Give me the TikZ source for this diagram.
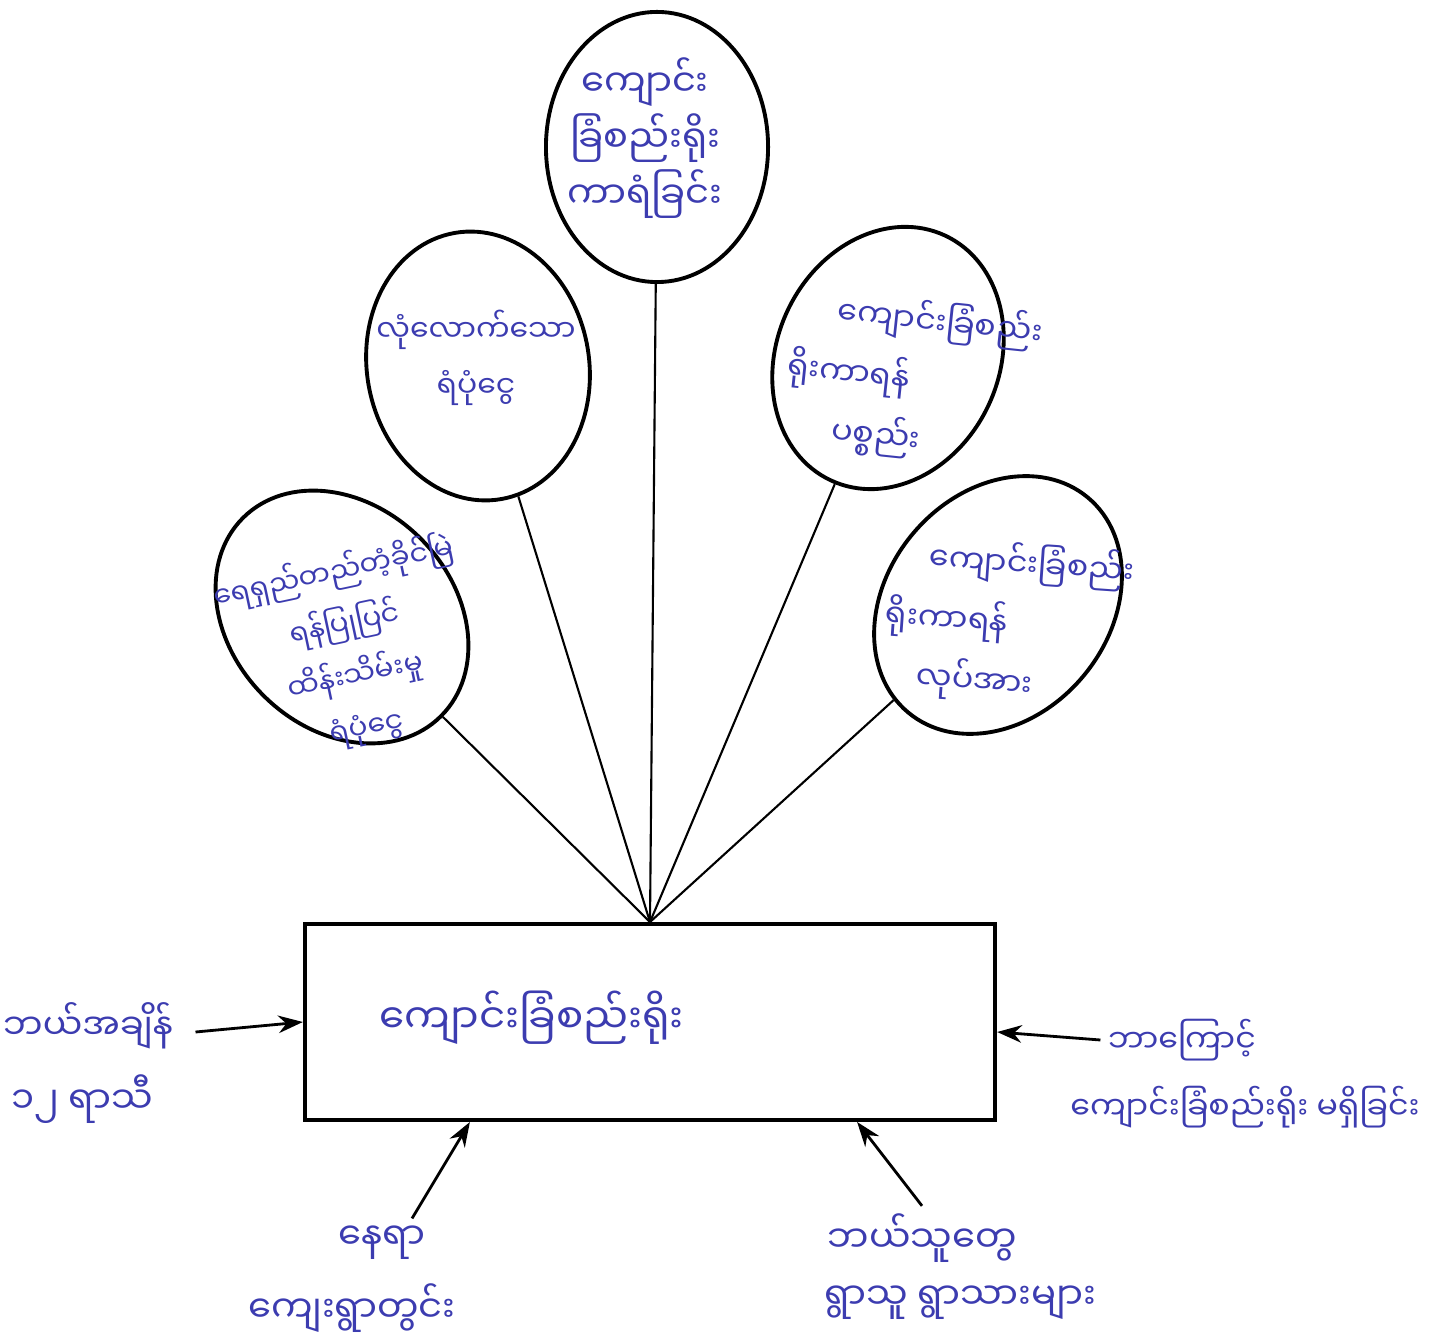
\documentclass[tikz,border=0pt]{standalone}
\usepackage{fontspec}
\newfontfamily\mmfont[Script=Myanmar]{Noto Sans Myanmar UI}
\usetikzlibrary{shapes.geometric,arrows.meta}
\definecolor{inkblue}{HTML}{3C3CB0}
\tikzset{
	bubble/.style={draw,ellipse,line width=1.1pt,minimum width=2.22cm,minimum height=2.7cm,inner sep=0pt},
	fencebox/.style={draw,rectangle,line width=1.1pt,minimum width=6.9cm,minimum height=1.96cm,inner sep=0pt},
	hand/.style={text=inkblue,font=\mmfont\fontsize{10.5}{16}\selectfont,align=center,inner sep=2pt},
	small hand/.style={hand,font=\mmfont\fontsize{9}{17}\selectfont},
	spoke/.style={line width=0.6pt},
	push/.style={-{Stealth[length=7pt,width=5pt]},line width=0.8pt}
}
\begin{document}
\begin{tikzpicture}[x=0.01cm,y=-0.01cm]
	\useasboundingbox (0,0) rectangle (1455,1340);
	\node[fencebox] (fence) at (650,1022) {};
	\node[hand,font=\mmfont\fontsize{11.5}{16}\selectfont,anchor=west] (fencetxt) at (372,1018) {ကျောင်းခြံစည်းရိုး};
	\node[bubble] (fencing) at (657,147) {};
	\node[bubble,rotate=10] (fund) at (478,366) {};
	\node[bubble,rotate=-25] (stuff) at (888,358) {};
	\node[bubble,rotate=45,minimum height=2.8cm] (upkeep) at (342,617) {};
	\node[bubble,rotate=-40,minimum height=2.8cm] (labour) at (998,605) {};
	\node[hand] (fencingtxt) at (645,138) {ကျောင်း\\ခြံစည်းရိုး\\ကာရံခြင်း};
	\node[small hand,font=\mmfont\fontsize{8.5}{16}\selectfont] (fundtxt) at (476,358) {လုံလောက်သော\\ရံပုံငွေ};
	\node[small hand,align=left,rotate=-6,anchor=west] (stufftxt) at (780,366) {\hspace*{1.4em}ကျောင်းခြံစည်း\\ရိုးကာရန်\\\hspace*{1.6em}ပစ္စည်း};
	\node[hand,font=\mmfont\fontsize{8}{15}\selectfont,rotate=12] (upkeeptxt) at (350,650) {ရေရှည်တည်တံ့ခိုင်မြဲ\\ရန်ပြုပြင်\\ထိန်းသိမ်းမှု\\ရံပုံငွေ};
	\node[small hand,align=left,rotate=-4,anchor=west] (labourtxt) at (878,614) {\hspace*{1.25em}ကျောင်းခြံစည်း\\ရိုးကာရန်\\\hspace*{1.1em}လုပ်အား};
	\foreach \b in {fencing,fund,stuff,upkeep,labour}
		\draw[spoke] (\b) -- (fence.north);
	\node[hand,font=\mmfont\fontsize{10}{16}\selectfont] (whenA) at (88,1026) {ဘယ်အချိန်};
	\node[hand] (whenB) at (82,1099) {၁၂ ရာသီ};
	\node[small hand] (whyA) at (1182,1040) {ဘာကြောင့်};
	\node[small hand] (whyB) at (1245,1107) {ကျောင်းခြံစည်းရိုး မရှိခြင်း};
	\node[hand] (whereA) at (382,1243) {နေရာ};
	\node[hand] (whereB) at (352,1308) {ကျေးရွာတွင်း};
	\node[hand] (whoA) at (922,1238) {ဘယ်သူတွေ};
	\node[hand] (whoB) at (960,1303) {ရွာသူ ရွာသားများ};
	\draw[push] ([xshift=0.15cm,yshift=-0.06cm]whenA.east) -- (fence.west);
	\draw[push] (whyA.west) -- ([yshift=-0.1cm]fence.east);
	\draw[push] ([xshift=0.3cm]whereA.north) -- ([xshift=-1.8cm]fence.south);
	\draw[push] (whoA.north) -- ([xshift=2.07cm]fence.south);
\end{tikzpicture}
\end{document}
